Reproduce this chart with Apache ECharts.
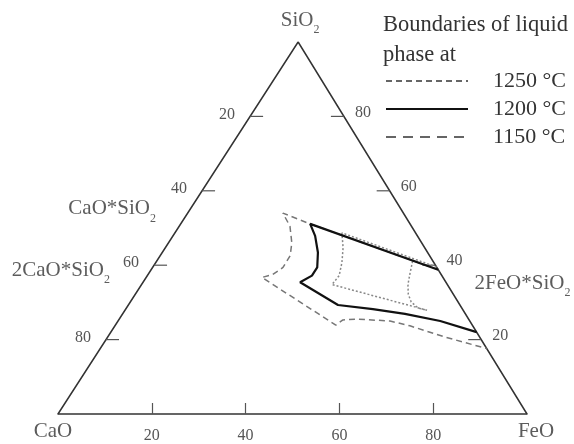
<!DOCTYPE html>
<html><head><meta charset="utf-8">
<script src="https://cdn.jsdelivr.net/npm/echarts@6/dist/echarts.min.js"></script>
<style>html,body{margin:0;padding:0;background:#fff}#c{width:574px;height:444px}</style>
</head><body><div id="c"></div>
<script>
const FONT = "'Liberation Serif','Times New Roman',serif";

// Axis ticks (percent)
const bottomTicks = [20, 40, 60, 80];   // FeO %
const leftTicks = [20, 40, 60, 80];     // CaO %
const rightTicks = [80, 60, 40, 20];    // SiO2 %

// Vertices and compounds: [SiO2 %, FeO %]
const vertexNames = ['SiO2', 'CaO', 'FeO'];
const vertexComp = [[100, 0], [0, 0], [0, 100]];
const compoundNames = ['CaO*SiO2', '2CaO*SiO2', '2FeO*SiO2'];
const compoundComp = [[51.7, 0], [34.9, 0], [29.5, 70.5]];

// Liquidus boundaries: [SiO2 %, FeO %]
const seriesNames = ['1250 °C', '1200 °C', '1150 °C'];
const boundary1250 = [[39.5,60.5],[48.7,35.6],[44.7,37.9],[40.7,39.7],[37.2,40.9],[34.8,40.6],[27.9,64.4],[28.5,62.2],[30.1,59.9],[32.2,58.2],[34.8,56.8],[37.8,55.7],[41.3,54.5]];
const boundary1200 = [[38.8,61.2],[51.1,27.6],[47.9,30.3],[43.4,33.2],[39.4,35.1],[37.2,35.1],[35.4,33.5],[29.3,44.7],[28.2,52.7],[26.9,60.2],[25.0,68.7],[22.0,78.0]];
const boundary1150 = [[38.8,61.2],[51.1,27.6],[54.0,20.3],[50.5,23.6],[46.0,26.3],[42.6,27.7],[39.4,27.8],[37.5,26.6],[36.7,24.7],[23.9,47.0],[25.3,47.8],[25.5,50.7],[25.0,58.0],[23.7,62.9],[20.7,71.9],[17.6,82.4]];

const APEX = 51.2; // horizontal position of SiO2 apex
function toXY(si, fe) { return [fe + si * APEX / 100, si]; }

function rich(name) {
  const m = name.match(/^(.*?)(\d)$/);
  return m ? '{n|' + m[1] + '}{s|' + m[2] + '}' : '{n|' + name + '}';
}
const richStyle = {
  n: { fontSize: 21, fontFamily: FONT, color: '#333', lineHeight: 24 },
  s: { fontSize: 12, fontFamily: FONT, color: '#333', lineHeight: 12, verticalAlign: 'bottom', padding: [0, 0, -4, 0] }
};
const vertexOffsets = [[2, -22], [-5, 17], [9, 17]];
const compoundOffsets = [[-70, -13], [-81, -14], [63, -21]];

const labelPoints = [];
vertexNames.forEach((n, i) => labelPoints.push({ value: toXY(vertexComp[i][0], vertexComp[i][1]), name: n, off: vertexOffsets[i] }));
compoundNames.forEach((n, i) => labelPoints.push({ value: toXY(compoundComp[i][0], compoundComp[i][1]), name: n, off: compoundOffsets[i] }));

const chart = echarts.init(document.getElementById('c'), null, { renderer: 'canvas' });

function tickSeries(values, side) {
  const data = values.map(v => side === 'left' ? toXY(100 - v, 0).concat(v) : toXY(v, 100 - v).concat(v));
  return {
    type: 'custom', silent: true, clip: false, z: 3,
    data: data,
    renderItem: function (params, api) {
      const p = api.coord([api.value(0), api.value(1)]);
      const v = api.value(2);
      const L = 13;
      if (side === 'left') {
        return { type: 'group', children: [
          { type: 'line', shape: { x1: p[0], y1: p[1], x2: p[0] + L, y2: p[1] }, style: { stroke: '#555', lineWidth: 1.2 } },
          { type: 'text', style: { text: String(v), x: p[0] - 15, y: p[1] - 2, align: 'right', verticalAlign: 'middle', font: '16px ' + FONT, fill: '#555' } }
        ]};
      }
      return { type: 'group', children: [
        { type: 'line', shape: { x1: p[0] - L, y1: p[1], x2: p[0], y2: p[1] }, style: { stroke: '#555', lineWidth: 1.2 } },
        { type: 'text', style: { text: String(v), x: p[0] + 11, y: p[1] - 4, align: 'left', verticalAlign: 'middle', font: '16px ' + FONT, fill: '#555' } }
      ]};
    }
  };
}

const option = {
  animation: false,
  backgroundColor: '#fff',
  title: {
    text: 'Boundaries of liquid\nphase at',
    left: 383, top: 10, padding: 0,
    textStyle: { fontFamily: FONT, fontSize: 22.5, fontWeight: 'normal', color: '#333', lineHeight: 30 }
  },
  legend: {
    left: 385, top: 70, orient: 'vertical', padding: 0,
    itemWidth: 82, itemHeight: 14, itemGap: 6, selectedMode: false,
    itemStyle: { opacity: 0, color: 'rgba(0,0,0,0)', borderWidth: 0 },
    textStyle: { fontFamily: FONT, fontSize: 22, color: '#333', lineHeight: 20, padding: [0, 0, 0, 20] },
    data: [
      { name: seriesNames[0], lineStyle: { type: [6, 4], color: '#333', width: 1.5 } },
      { name: seriesNames[1], lineStyle: { type: 'solid', color: '#111', width: 2 } },
      { name: seriesNames[2], lineStyle: { type: [10, 7], color: '#333', width: 1.5 } }
    ]
  },
  grid: { left: 58, right: 47, top: 42, bottom: 26 },
  xAxis: {
    type: 'value', min: 0, max: 100,
    axisLine: { show: true, onZero: false, lineStyle: { color: '#333', width: 1.5 } },
    axisTick: { show: true, inside: true, length: 11, customValues: bottomTicks, lineStyle: { color: '#555', width: 1.2 } },
    axisLabel: { customValues: bottomTicks, margin: 14, fontSize: 16, fontFamily: FONT, color: '#555' },
    splitLine: { show: false }
  },
  yAxis: { type: 'value', min: 0, max: 100, show: false },
  series: [
    {
      type: 'line', name: 'edges', silent: true, symbol: 'none', z: 2,
      data: [toXY(0, 0), toXY(100, 0), toXY(0, 100)],
      lineStyle: { color: '#333', width: 1.5 }
    },
    tickSeries(leftTicks, 'left'),
    tickSeries(rightTicks, 'right'),
    {
      type: 'line', name: seriesNames[2], symbol: 'none', silent: true, z: 4,
      data: boundary1150.map(p => toXY(p[0], p[1])),
      lineStyle: { color: '#777', width: 1.5, type: [6, 4] }, itemStyle: { color: '#777' }
    },
    {
      type: 'line', name: seriesNames[0], symbol: 'none', silent: true, z: 5,
      data: boundary1250.map(p => toXY(p[0], p[1])),
      lineStyle: { color: '#888', width: 1.5, type: [2, 2] }, itemStyle: { color: '#888' }
    },
    {
      type: 'line', name: seriesNames[1], symbol: 'none', silent: true, z: 6,
      data: boundary1200.map(p => toXY(p[0], p[1])),
      lineStyle: { color: '#111', width: 2.2, type: 'solid' }, itemStyle: { color: '#111' }
    },
    {
      type: 'scatter', name: 'labels', silent: true, symbolSize: 0, z: 7,
      data: labelPoints.map(d => ({
        value: d.value, name: d.name,
        label: { show: true, position: 'inside', align: 'center', verticalAlign: 'middle', offset: d.off, formatter: rich(d.name), rich: richStyle }
      }))
    }
  ]
};
chart.setOption(option);
</script>
</body></html>
